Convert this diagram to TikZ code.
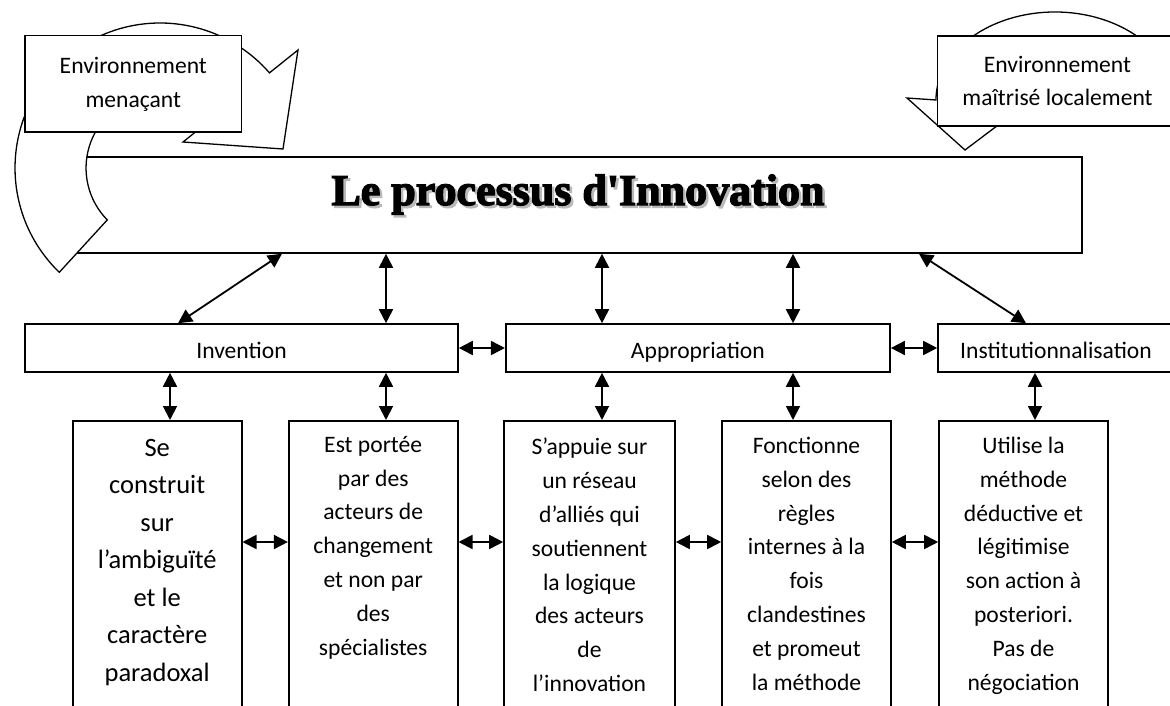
\documentclass[tikz,border=0pt]{standalone}
\usepackage{fontspec}
\setmainfont{Carlito}
\newfontfamily\titlefont[FakeBold=3]{Liberation Serif Bold}
\usetikzlibrary{arrows.meta}

\tikzset{
  box/.style={draw, line width=1.6pt, fill=white, inner sep=0pt},
  bodytext/.style={align=center, inner sep=0pt, font=\fontsize{23.6}{33.8}\selectfont},
  bigtext/.style={align=center, inner sep=0pt, font=\fontsize{26.5}{37.5}\selectfont},
  stage/.style={box, bodytext, minimum height=48pt, text height=20.6pt, text depth=0pt},
  link/.style={{Triangle[length=14pt,width=14pt]}-{Triangle[length=14pt,width=14pt]}, line width=1.8pt},
  turnarrow/.style={draw, line width=1.3pt, fill=white, line join=miter},
  titletext/.style={anchor=base, inner sep=0pt, font=\titlefont\fontsize{44}{44}\selectfont}
}
\newcommand\shadowed[1]{\rlap{\hspace{2.5pt}\raisebox{-2.5pt}{\textcolor{gray!55}{#1}}}#1}

\begin{document}
\begin{tikzpicture}[x=1pt, y=-1pt]
\path[use as bounding box, clip] (0,0) rectangle (1170,706);

% Main box with the title
\node[box, minimum width=1008pt, minimum height=96pt] (proc) at (578,205) {};
\node[titletext] (proctitle) at (578,205) {\shadowed{Le processus d'Innovation}};

% Curved arrow on the left
\path[turnarrow] (59.3,272.3) arc[start angle=134, end angle=319, radius=145]
  -- (298,50) -- (283,149) -- (183,142) -- (213.9,117.3)
  arc[start angle=316.7, end angle=135.5, radius=74] -- cycle;
\node[box, bodytext, minimum width=216.7pt, minimum height=96.6pt] (menace) at (133.3,84) {Environnement\\menaçant};

% Curved arrow on the right
\path[turnarrow] (1166.8,69.9) arc[start angle=340, end angle=180, x radius=119, y radius=88]
  -- (907,98) -- (965,150) -- (1030,101) -- (996,100)
  arc[start angle=180, end angle=340, x radius=59, y radius=28] -- cycle;
\node[box, bodytext, minimum width=240.4pt, minimum height=90pt] (maitrise) at (1057.5,81) {Environnement\\maîtrisé localement};

% The three stages
\node[stage, minimum width=433pt] (inv) at (241.5,348) {Invention};
\node[stage, minimum width=384.3pt] (app) at (697.9,348) {Appropriation};
\node[stage, minimum width=236pt] (inst) at (1056,348) {Institutionnalisation};

% The five descriptions
\node[box, anchor=north, minimum width=169pt, minimum height=310pt] (b1) at (157.2,420) {};
\node[box, anchor=north, minimum width=169pt, minimum height=310pt] (b2) at (373.2,420) {};
\node[box, anchor=north, minimum width=171pt, minimum height=310pt] (b3) at (589.5,420) {};
\node[box, anchor=north, minimum width=169pt, minimum height=310pt] (b4) at (806.5,420) {};
\node[box, anchor=north, minimum width=169pt, minimum height=310pt] (b5) at (1023.5,420) {};
\node[bigtext, anchor=north] (t1) at (157.2,439) {Se\\construit\\sur\\l’ambiguïté\\et le\\caractère\\paradoxal};
\node[bodytext, anchor=north] (t2) at (373.2,436) {Est portée\\par des\\acteurs de\\changement\\et non par\\des\\spécialistes};
\node[bodytext, anchor=north] (t3) at (589.5,438) {S’appuie sur\\un réseau\\d’alliés qui\\soutiennent\\la logique\\des acteurs\\de\\l’innovation};
\node[bodytext, anchor=north] (t4) at (806.5,437) {Fonctionne\\selon des\\règles\\internes à la\\fois\\clandestines\\et promeut\\la méthode};
\node[bodytext, anchor=north] (t5) at (1023.5,437) {Utilise la\\méthode\\déductive et\\légitimise\\son action à\\posteriori.\\Pas de\\négociation};

% Arrows between title and stages
\draw[link] (proc.south -| 282,0) -- (inv.north -| 178,0);
\draw[link] (proc.south -| 386,0) -- (inv.north -| 386,0);
\draw[link] (proc.south -| 602,0) -- (app.north -| 602,0);
\draw[link] (proc.south -| 793,0) -- (app.north -| 793,0);
\draw[link] (proc.south -| 919,0) -- (inst.north -| 1026,0);

% Arrows between stages
\draw[link] (inv.east) -- (app.west);
\draw[link] (app.east) -- (inst.west);

% Arrows between stages and descriptions
\draw[link] (inv.south -| 170,0) -- (b1.north -| 170,0);
\draw[link] (inv.south -| 386,0) -- (b2.north -| 386,0);
\draw[link] (app.south -| 602,0) -- (b3.north -| 602,0);
\draw[link] (app.south -| 793,0) -- (b4.north -| 793,0);
\draw[link] (inst.south -| 1035,0) -- (b5.north -| 1035,0);

% Arrows between descriptions
\draw[link] (b1.east |- 0,542) -- (b2.west |- 0,542);
\draw[link] (b2.east |- 0,542) -- (b3.west |- 0,542);
\draw[link] (b3.east |- 0,542) -- (b4.west |- 0,542);
\draw[link] (b4.east |- 0,542) -- (b5.west |- 0,542);
\end{tikzpicture}
\end{document}
